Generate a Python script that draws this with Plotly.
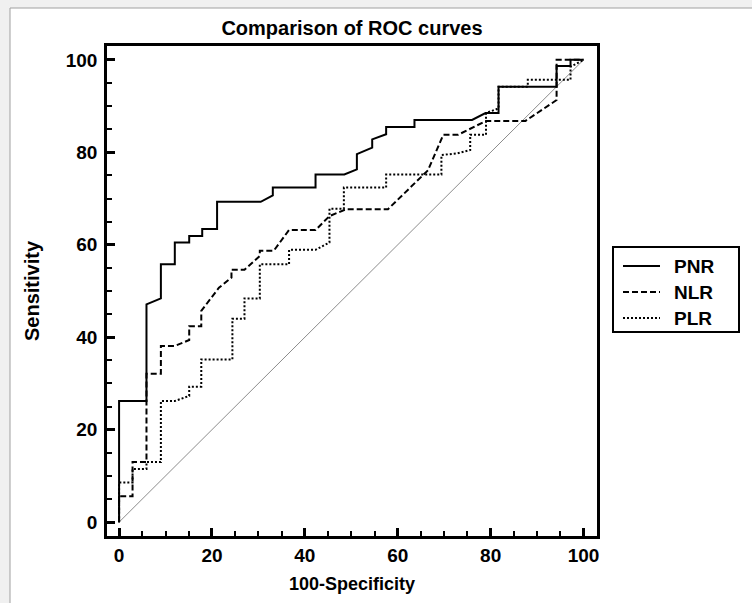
import plotly.graph_objects as go

# ---- data ----
pnr_x = [0, 0, 5.9, 5.9, 9.0, 9.0, 12.0, 12.0, 15.1, 15.1, 17.9, 17.9, 21.1, 21.1, 30.5, 33.1, 33.1,
         42.3, 42.3, 48.5, 51.2, 51.2, 54.5, 54.5, 57.5, 57.5, 63.6, 63.6, 76.0, 78.9, 81.7, 81.7,
         94.2, 94.2, 97.2, 97.2, 100]
pnr_y = [0, 26.2, 26.2, 47.1, 48.4, 55.8, 55.8, 60.5, 60.5, 61.9, 61.9, 63.4, 63.4, 69.3, 69.3, 70.7, 72.4,
         72.4, 75.2, 75.2, 76.3, 79.6, 81.0, 82.8, 83.9, 85.5, 85.5, 87.0, 87.0, 88.5, 88.5, 94.2,
         94.2, 98.7, 98.7, 100, 100]

nlr_x = [0, 0, 2.9, 2.9, 5.9, 5.9, 9.0, 9.0, 12.0, 15.1, 15.1, 17.7, 17.7, 21.5, 24.2, 24.2, 27.0, 30.3,
         30.3, 33.3, 36.6, 42.3, 45.3, 48.9, 57.9, 66.5, 69.8, 73.0, 79.0, 87.5, 94.2, 94.2, 100]
nlr_y = [0, 5.6, 5.6, 13.0, 13.0, 32.1, 32.1, 38.1, 38.1, 39.4, 42.4, 42.4, 45.7, 50.7, 52.9, 54.6, 54.6, 57.6,
         58.7, 58.7, 63.2, 63.2, 66.2, 67.7, 67.7, 76.1, 83.8, 83.8, 86.8, 86.8, 91.3, 100, 100]

plr_x = [0, 0, 2.9, 2.9, 5.9, 5.9, 9.0, 9.0, 12.0, 15.1, 15.1, 17.7, 17.7, 24.4, 24.4, 27.0, 27.0, 30.3,
         30.3, 36.6, 36.6, 42.3, 45.3, 45.3, 48.4, 48.4, 57.5, 57.5, 69.4, 69.4, 72.9, 75.6, 75.6, 79.0,
         79.0, 81.7, 81.7, 88.0, 88.0, 97.2, 97.2, 100]
plr_y = [0, 8.6, 8.6, 11.5, 11.5, 13.0, 13.0, 26.2, 26.2, 27.3, 29.3, 29.3, 35.2, 35.2, 44.0, 44.0, 48.4, 48.4,
         55.8, 55.8, 58.9, 58.9, 60.5, 67.8, 67.8, 72.4, 72.4, 75.2, 75.2, 79.4, 79.8, 80.5, 83.8, 83.8,
         88.5, 89.5, 94.2, 94.2, 95.7, 95.7, 98.5, 100]

ref_x = [0, 100]
ref_y = [0, 100]

series_names = ["PNR", "NLR", "PLR"]
series_dash = ["solid", "6px,3px", "2px,2px"]

tick_vals = [0, 20, 40, 60, 80, 100]
tick_text = ["0", "20", "40", "60", "80", "100"]

FONT = "Liberation Sans, Arial, sans-serif"

# pixel geometry helpers
W, H = 752, 603
L, R, T, B = 107, 597, 46, 536
pw, ph = R - L, B - T


def px_x(p):
    return (p - L) / pw


def px_y(p):
    return (B - p) / ph


fig = go.Figure()
fig.add_trace(go.Scatter(x=ref_x, y=ref_y, mode="lines", showlegend=False,
                         line=dict(color="#8c8c8c", width=1), hoverinfo="skip"))
for nm, xs, ys, ds in zip(series_names, [pnr_x, nlr_x, plr_x], [pnr_y, nlr_y, plr_y], series_dash):
    fig.add_trace(go.Scatter(x=xs, y=ys, mode="lines", name=nm, showlegend=False,
                             line=dict(color="black", width=2, dash=ds)))

axis_common = dict(
    tickmode="array", tickvals=tick_vals, ticktext=tick_text,
    ticks="inside", ticklen=8, tickwidth=2.5, tickcolor="black",
    showline=True, linewidth=2.5, linecolor="black", mirror=True,
    showgrid=False, zeroline=False,
    tickfont=dict(family=FONT, size=19, color="black", weight="bold"),
    minor=dict(dtick=5, ticks="inside", ticklen=5, tickwidth=1.5, tickcolor="black", showgrid=False),
)

fig.update_xaxes(range=[-2.6, 102.9], **axis_common,
                 title=dict(text="100-Specificity", standoff=13,
                            font=dict(family=FONT, size=18, color="black", weight="bold")))
fig.update_yaxes(range=[-3.0, 103.0], **axis_common, ticklabelstandoff=3,
                 title=dict(text="Sensitivity", standoff=21,
                            font=dict(family=FONT, size=20, color="black", weight="bold")))

# manual legend (box, line samples, labels)
shapes = [
    dict(type="rect", xref="paper", yref="paper", layer="below",
         x0=px_x(10), x1=px_x(W + 5), y0=px_y(H + 5), y1=px_y(8),
         fillcolor="white", line=dict(color="#a0a0a0", width=1)),
    dict(type="rect", xref="paper", yref="paper",
         x0=px_x(613), x1=px_x(739), y0=px_y(332), y1=px_y(247),
         fillcolor="rgba(0,0,0,0)", line=dict(color="black", width=2)),
]
annotations = []
leg_y = [266, 292, 318]
for nm, ds, yy in zip(series_names, series_dash, leg_y):
    shapes.append(dict(type="line", xref="paper", yref="paper",
                       x0=px_x(623), x1=px_x(660), y0=px_y(yy), y1=px_y(yy),
                       line=dict(color="black", width=2, dash=ds)))
    annotations.append(dict(text=nm, xref="paper", yref="paper", x=px_x(672), y=px_y(yy),
                            xanchor="left", yanchor="middle", showarrow=False,
                            font=dict(family=FONT, size=19, color="black", weight="bold")))

fig.update_layout(
    width=W, height=H,
    margin=dict(l=L, r=W - R, t=T, b=H - B, autoexpand=False),
    paper_bgcolor="#f0f0f0", plot_bgcolor="white",
    title=dict(text="Comparison of ROC curves", x=px_x(352), xref="paper", xanchor="center",
               y=1 - 28 / H, yref="container", yanchor="middle",
               font=dict(family=FONT, size=20, color="black", weight="bold")),
    shapes=shapes,
    annotations=annotations,
    showlegend=False,
)

fig.write_html("out.html", config={"displayModeBar": False},
               post_script="document.body.style.margin='0';")
